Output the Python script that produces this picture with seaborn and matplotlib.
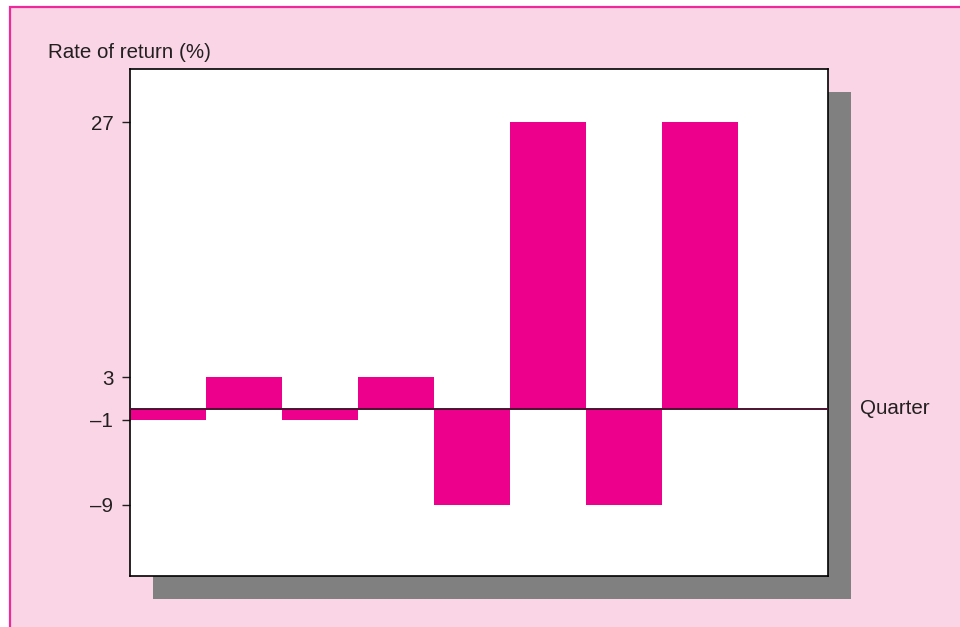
#!/usr/bin/env python3
"""Quarterly rate of return bar chart, pink-framed style."""

import matplotlib

matplotlib.use("Agg")
import matplotlib.pyplot as plt
import pandas as pd
import seaborn as sns
from matplotlib.patches import Rectangle

# data
quarters = ["Q1", "Q2", "Q3", "Q4", "Q5", "Q6", "Q7", "Q8"]
returns = [-1, 3, -1, 3, -9, 27, -9, 27]
tick_values = [27, 3, -1, -9]
tick_labels = ["27", "3", "\u20131", "\u20139"]

PINK_BG = "#F9D5E5"
PINK_EDGE = "#EE2A9A"
BAR = "#EC008C"
SHADOW = "#808080"
TEXT = "#231F20"

W, H = 960, 627

sns.set_theme(style="white")
plt.rcParams["font.family"] = ["Liberation Sans", "DejaVu Sans"]

fig = plt.figure(figsize=(W / 100, H / 100), dpi=100)
fig.patch.set_facecolor("white")

# pink panel with border
fig.patches.append(
    Rectangle((10 / W, -0.1), 1.2, 1 - 7 / H + 0.1, transform=fig.transFigure,
              facecolor=PINK_BG, edgecolor=PINK_EDGE, linewidth=1.6, zorder=0)
)

ax_left, ax_right, ax_top, ax_bottom = 130, 828, 69, 576
shadow_off = 23
fig.patches.append(
    Rectangle(((ax_left + shadow_off) / W, (H - ax_bottom - shadow_off) / H),
              (ax_right - ax_left) / W, (ax_bottom - ax_top) / H,
              transform=fig.transFigure, facecolor=SHADOW, edgecolor="none", zorder=0.5)
)

ax = fig.add_axes([ax_left / W, (H - ax_bottom) / H,
                   (ax_right - ax_left) / W, (ax_bottom - ax_top) / H])
ax.set_zorder(1)
ax.set_facecolor("white")

df = pd.DataFrame({"quarter": quarters, "ret": returns})
sns.barplot(data=df, x="quarter", y="ret", color=BAR, saturation=1, width=1.0,
            linewidth=0, ax=ax)
for p in ax.patches:
    p.set_facecolor(BAR)
    p.set_edgecolor("none")

ax.axhline(0, color="#4B1230", linewidth=1.4, zorder=3)

ax.set_xlim(-0.5, 8.684)
ax.set_ylim(-15.7, 32.0)
ax.set_xticks([])
ax.set_yticks(tick_values)
ax.set_yticklabels(tick_labels, fontsize=14.8, color=TEXT)
ax.tick_params(axis="y", direction="out", length=6, width=1, color=TEXT, pad=6, left=True)
ax.set_xlabel("")
ax.set_ylabel("")
for s in ax.spines.values():
    s.set_visible(True)
    s.set_color("black")
    s.set_linewidth(1.2)

fig.text(48 / W, 1 - 53 / H, "Rate of return (%)", fontsize=14.8, color=TEXT,
         ha="left", va="center")
fig.text(860 / W, 1 - 409 / H, "Quarter", fontsize=14.8, color=TEXT,
         ha="left", va="center")

fig.savefig("out.png", dpi=100, facecolor=fig.get_facecolor())
